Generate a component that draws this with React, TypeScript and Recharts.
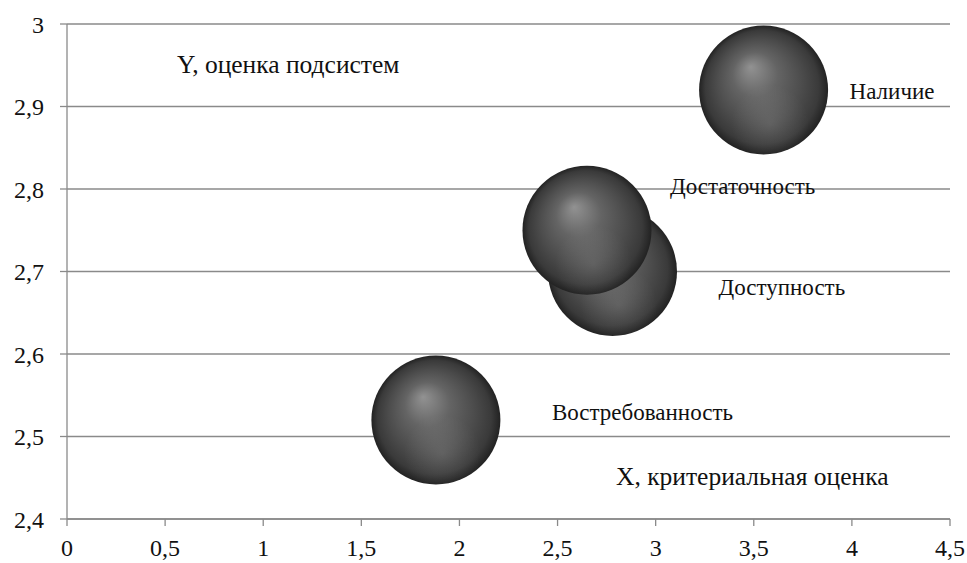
import React from 'react';
import { ScatterChart, Scatter, XAxis, YAxis, ZAxis, CartesianGrid, LabelList } from 'recharts';

const subsystems = ['Наличие', 'Доступность', 'Достаточность', 'Востребованность'];
const xScores = [3.55, 2.78, 2.65, 1.88];
const yScores = [2.92, 2.7, 2.75, 2.52];
const bubbleSizes = [1, 1, 1, 1];

const xTicks = [0, 0.5, 1, 1.5, 2, 2.5, 3, 3.5, 4, 4.5];
const yTicks = [2.4, 2.5, 2.6, 2.7, 2.8, 2.9, 3];

const data = subsystems.map((name, i) => ({
  name,
  x: xScores[i],
  y: yScores[i],
  z: bubbleSizes[i],
}));

// label placement next to each sphere (text start / baseline, relative to centre)
const labelOffsets: Record<string, { dx: number; dy: number }> = {
  'Наличие': { dx: 86, dy: 9 },
  'Доступность': { dx: 106, dy: 23 },
  'Достаточность': { dx: 83, dy: -36 },
  'Востребованность': { dx: 116, dy: 0 },
};

const FONT = 'Liberation Serif';
const GRID = '#8a8a8a';
const BUBBLE_R = 64.5;

const comma = (v: number) => String(v).replace('.', ',');

const Sphere = (props: any) => {
  const { cx, cy, width } = props;
  const r = width / 2;
  return (
    <g>
      <circle cx={cx} cy={cy} r={r} fill="url(#sphereBody)" />
      <circle cx={cx} cy={cy} r={r} fill="url(#sphereGlow)" />
    </g>
  );
};

const BubbleLabel = (props: any) => {
  const { x, y, width, height, value } = props;
  const off = labelOffsets[value] || { dx: 0, dy: 0 };
  const cx = x + width / 2;
  const cy = y + height / 2;
  return (
    <text x={cx + off.dx} y={cy + off.dy} fill="#111" style={{ fontFamily: FONT, fontSize: 23 }}>
      {value}
    </text>
  );
};

const App: React.FC = () => {
  return (
    <div style={{ position: 'absolute', left: 0, top: 0, width: 967, height: 563, background: '#fff' }}>
      <ScatterChart width={967} height={563} margin={{ top: 24, right: 17, bottom: 14, left: 0 }}>
        <defs>
          <radialGradient id="sphereBody" cx="0.5" cy="0.5" r="0.5" fx="0.4" fy="0.32">
            <stop offset="0" stopColor="#929292" />
            <stop offset="0.35" stopColor="#646464" />
            <stop offset="0.65" stopColor="#4d4d4d" />
            <stop offset="0.88" stopColor="#3a3a3a" />
            <stop offset="1" stopColor="#222222" />
          </radialGradient>
          <radialGradient id="sphereGlow" cx="0.55" cy="0.76" r="0.3">
            <stop offset="0" stopColor="#ffffff" stopOpacity={0.12} />
            <stop offset="1" stopColor="#ffffff" stopOpacity={0} />
          </radialGradient>
        </defs>
        <CartesianGrid vertical={false} stroke={GRID} strokeWidth={1.3} />
        <XAxis
          type="number"
          dataKey="x"
          domain={[0, 4.5]}
          ticks={xTicks}
          tickFormatter={comma}
          stroke={GRID}
          strokeWidth={1.3}
          tickSize={7}
          tickMargin={13}
          height={30}
          tick={{ fill: '#111', fontFamily: FONT, fontSize: 24 }}
        />
        <YAxis
          type="number"
          dataKey="y"
          domain={[2.4, 3]}
          ticks={yTicks}
          tickFormatter={comma}
          stroke={GRID}
          strokeWidth={1.3}
          tickSize={7}
          tickMargin={16}
          width={67}
          tick={{ fill: '#111', fontFamily: FONT, fontSize: 24 }}
        />
        <ZAxis type="number" dataKey="z" range={[Math.PI * BUBBLE_R * BUBBLE_R, Math.PI * BUBBLE_R * BUBBLE_R]} />
        <Scatter data={data} shape={<Sphere />} isAnimationActive={false}>
          <LabelList dataKey="name" content={<BubbleLabel />} />
        </Scatter>
      </ScatterChart>
      <svg width={967} height={563} style={{ position: 'absolute', left: 0, top: 0, pointerEvents: 'none' }}>
        <text x={177} y={73} fill="#111" style={{ fontFamily: FONT, fontSize: 25.5 }}>
          Y, оценка подсистем
        </text>
        <text x={616} y={485} fill="#111" style={{ fontFamily: FONT, fontSize: 25.5 }}>
          X, критериальная оценка
        </text>
      </svg>
    </div>
  );
};

export default App;
